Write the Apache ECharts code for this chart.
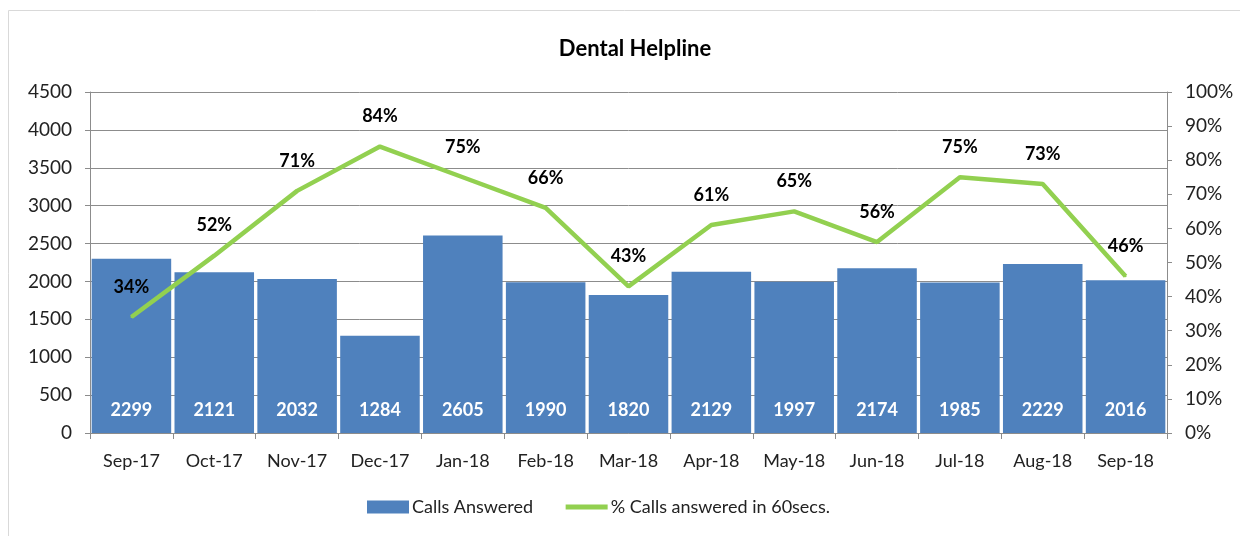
<!DOCTYPE html>
<html>
<head>
<meta charset="utf-8">
<script src="https://cdn.jsdelivr.net/npm/echarts@6/dist/echarts.min.js"></script>
<style>
  html, body { margin: 0; padding: 0; background: #fff; }
  #chart { width: 1240px; height: 536px; }
</style>
</head>
<body>
<div id="chart"></div>
<script>
// months on the x axis
var months = ['Sep-17', 'Oct-17', 'Nov-17', 'Dec-17', 'Jan-18', 'Feb-18', 'Mar-18', 'Apr-18', 'May-18', 'Jun-18', 'Jul-18', 'Aug-18', 'Sep-18']
// calls answered (bars, left axis)
var callsAnswered = [2299, 2121, 2032, 1284, 2605, 1990, 1820, 2129, 1997, 2174, 1985, 2229, 2016]
// % answered in 60 secs (line, right axis)
var pctIn60 = [34, 52, 71, 84, 75, 66, 43, 61, 65, 56, 75, 73, 46]

var font = 'Lato, "Liberation Sans", sans-serif'
var gridColor = '#8c8c8c'

var chart = echarts.init(document.getElementById('chart'))
var option = {
  textStyle: { fontFamily: font },
  animation: false,
  graphic: [{
    type: 'rect',
    shape: { x: 8.5, y: 10.5, width: 1240, height: 540 },
    style: { fill: 'none', stroke: '#d9d9d9', lineWidth: 1 },
    silent: true,
    z: -1
  }],
  title: {
    text: 'Dental Helpline',
    left: 630,
    textAlign: 'center',
    top: 33,
    textStyle: { fontFamily: font, fontSize: 22, fontWeight: 'bold', color: '#000' }
  },
  grid: { left: 90, right: 73, top: 92, bottom: 103 },
  legend: {
    bottom: 15,
    left: 362,
    itemGap: 30,
    itemWidth: 42,
    itemHeight: 13,
    textStyle: { fontFamily: font, fontSize: 18, color: '#222', padding: [0, 0, 0, -2] },
    data: [
      { name: 'Calls Answered', icon: 'rect' },
      {
        name: '% Calls answered in 60secs.',
        itemStyle: { opacity: 0 },
        lineStyle: { width: 5, color: '#92d050' }
      }
    ]
  },
  xAxis: {
    type: 'category',
    data: months,
    axisLine: { lineStyle: { color: gridColor } },
    axisTick: { show: true, length: 6, alignWithLabel: false, lineStyle: { color: gridColor } },
    axisLabel: { color: '#222', fontSize: 18, margin: 19, interval: 0, fontFamily: font }
  },
  yAxis: [
    {
      type: 'value',
      min: 0,
      max: 4500,
      interval: 500,
      axisLine: { show: true, lineStyle: { color: gridColor } },
      axisTick: { show: true, length: 5, lineStyle: { color: gridColor } },
      axisLabel: {
        color: '#222',
        fontSize: 19,
        margin: 18,
        fontFamily: font,
        formatter: function (v) { return String(v) }
      },
      splitLine: { lineStyle: { color: gridColor } }
    },
    {
      type: 'value',
      min: 0,
      max: 100,
      interval: 10,
      axisLine: { show: true, lineStyle: { color: gridColor } },
      axisTick: { show: true, length: 5, lineStyle: { color: gridColor } },
      axisLabel: { color: '#222', fontSize: 19, margin: 18, formatter: '{value}%', fontFamily: font },
      splitLine: { show: false }
    }
  ],
  series: [
    {
      name: 'Calls Answered',
      type: 'bar',
      data: callsAnswered,
      barCategoryGap: '4%',
      itemStyle: { color: '#4f81bd' },
      label: {
        show: true,
        position: 'insideBottom',
        distance: 14,
        color: '#fff',
        fontWeight: 'bold',
        fontSize: 18,
        fontFamily: font
      }
    },
    {
      name: '% Calls answered in 60secs.',
      type: 'line',
      yAxisIndex: 1,
      data: pctIn60,
      symbol: 'circle',
      symbolSize: 2,
      showSymbol: true,
      lineStyle: { color: '#92d050', width: 4.5 },
      itemStyle: { color: '#92d050' },
      label: {
        show: true,
        position: 'top',
        distance: 20,
        formatter: '{c}%',
        color: '#000',
        fontWeight: 'bold',
        fontSize: 18,
        fontFamily: font
      }
    }
  ]
}
chart.setOption(option)
</script>
</body>
</html>
